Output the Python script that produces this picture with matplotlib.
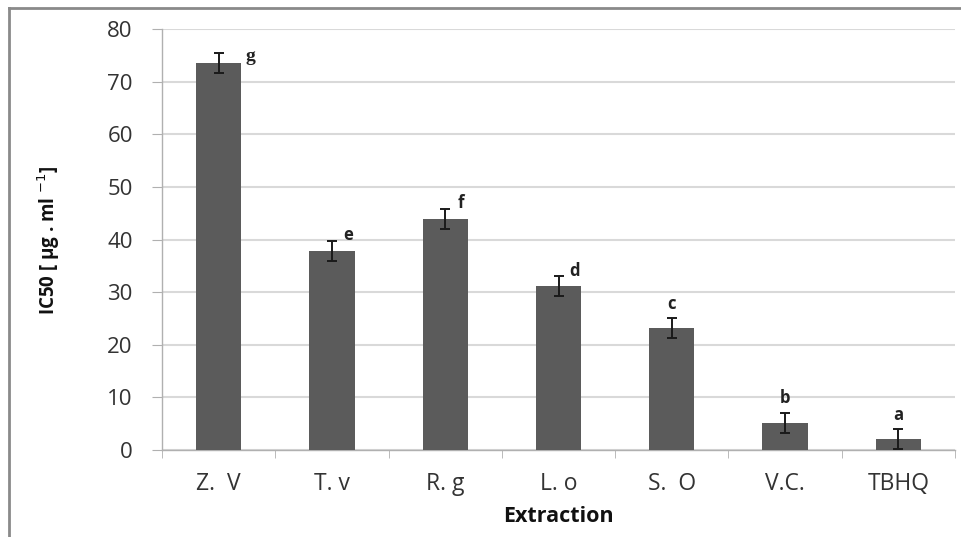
import matplotlib
matplotlib.use("Agg")
import matplotlib.pyplot as plt
from matplotlib.lines import Line2D
import numpy as np

categories = ["Z.  V", "T. v", "R. g", "L. o", "S.  O", "V.C.", "TBHQ"]
values = [73.6, 37.9, 43.9, 31.1, 23.1, 5.2, 2.1]
errors = [1.9, 1.9, 1.9, 1.9, 1.9, 1.9, 1.9]
letters = ["g", "e", "f", "d", "c", "b", "a"]

plt.rcParams['font.family'] = ['Open Sans', 'DejaVu Sans']

fig = plt.figure(figsize=(9.61, 5.37), dpi=100)
ax = fig.add_axes([162/961, 1-450/537, (955-162)/961, (450-29)/537])

x = np.arange(len(categories))
ax.bar(x, values, width=0.4, color="#5b5b5b", zorder=3)
ax.errorbar(x, values, yerr=errors, fmt="none", ecolor="#1a1a1a",
            elinewidth=1.4, capsize=3.5, capthick=1.4, zorder=4)

# significance letters
for i, (v, e, l) in enumerate(zip(values, errors, letters)):
    top = v + e
    if l == "g":
        ax.text(i + 0.28, top - 0.8, l, ha="center", va="center",
                fontsize=14, fontweight="bold", color="#222222",
                family=['Liberation Serif'])
    elif i < 4:
        ax.text(i + 0.14, top + 1.1, l, ha="center", va="center",
                fontsize=12, fontweight="bold", color="#222222")
    else:
        ax.text(i, top + 2.7, l, ha="center", va="center",
                fontsize=12, fontweight="bold", color="#222222")

ax.set_xlim(-0.5, len(categories) - 0.5)
ax.set_ylim(0, 80)
ax.set_yticks(np.arange(0, 81, 10))
ax.yaxis.grid(True, color="#d9d9d9", linewidth=1.5, zorder=0)
ax.set_axisbelow(True)

for s in ["top", "right"]:
    ax.spines[s].set_visible(False)
ax.spines["left"].set_color("#b0b0b0")
ax.spines["bottom"].set_color("#b0b0b0")
ax.spines["left"].set_linewidth(1.0)
ax.spines["bottom"].set_linewidth(1.0)

ax.set_xticks(x)
ax.set_xticklabels(categories, fontsize=16.5, color="#333333")
ax.set_xticks(np.arange(-0.5, len(categories), 1.0), minor=True)
ax.tick_params(axis="x", which="major", length=0, pad=16)
ax.tick_params(axis="x", which="minor", length=6, color="#b0b0b0", direction="out")
ax.tick_params(axis="y", length=7, color="#b0b0b0", labelsize=16, labelcolor="#333333", pad=14)

ax.set_xlabel("Extraction", fontsize=15.5, fontweight="bold", color="#111111", labelpad=7)
fig.text(49/961, 1-240/537, "IC50 [ μg . ml $^{-1}$]", rotation=90, ha="center",
         va="center", fontsize=13.5, fontweight="bold", color="#111111")

# outer frame (top and left edges)
fig.add_artist(Line2D([9/961, 1.0], [1-8/537, 1-8/537], transform=fig.transFigure,
                      color="#8a8a8a", linewidth=2))
fig.add_artist(Line2D([9/961, 9/961], [0, 1-8/537], transform=fig.transFigure,
                      color="#8a8a8a", linewidth=2))

fig.savefig("out.png", dpi=100)
